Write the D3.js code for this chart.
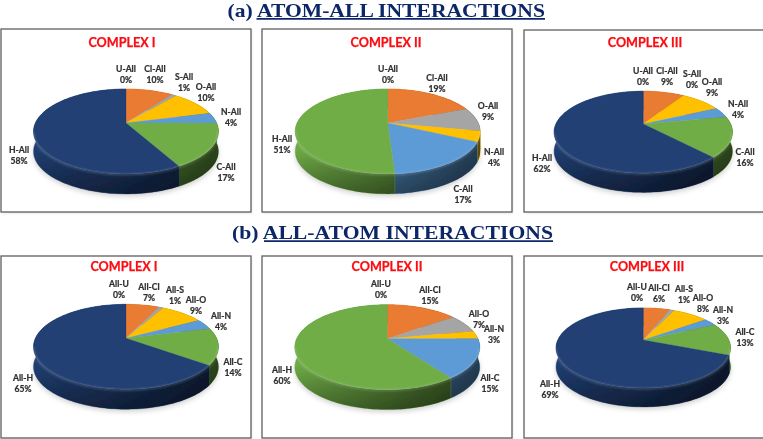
<!DOCTYPE html>
<html><head><meta charset="utf-8">
<script src="https://cdn.jsdelivr.net/npm/d3@7"></script>
<style>html,body{margin:0;padding:0;background:#fff}svg{display:block}</style>
</head><body><div id="chart"></div>
<script>
// ---- data ----
const atomAllLabels = ["U-All","Cl-All","S-All","O-All","N-All","C-All","H-All"];
const atomAllLabelsNoS = ["U-All","Cl-All","O-All","N-All","C-All","H-All"];
const allAtomLabels = ["All-U","All-Cl","All-S","All-O","All-N","All-C","All-H"];
const allAtomLabelsNoS = ["All-U","All-Cl","All-O","All-N","All-C","All-H"];
const atomAllComplex1 = [0,10,1,10,4,17,58];
const atomAllComplex2 = [0,19,9,4,17,51];
const atomAllComplex3 = [0,9,0,9,4,16,62];
const allAtomComplex1 = [0,7,1,9,4,14,65];
const allAtomComplex2 = [0,15,7,3,15,60];
const allAtomComplex3 = [0,6,1,8,3,13,69];
const palette = ["#5b9bd5","#e97c30","#a5a5a5","#ffc000","#5b9bd5","#70ad47","#203f73"];
const complexTitles = ["COMPLEX I","COMPLEX II","COMPLEX III"];
const sectionTitles = [["(a) ","ATOM-ALL INTERACTIONS"],["(b) ","ALL-ATOM INTERACTIONS"]];

// ---- layout ----
const W = 763, H = 439;
const sectionLayout = [{x:227.5,y:17,ul:18.9,w:317.5,u0:256.5,u1:545},{x:232,y:239,ul:241.2,w:321,u0:264,u1:553}];
const panels = [
 {labels:atomAllLabels,    values:atomAllComplex1, title:0, frame:[1,29,251,212],   tx:122,ty:43, cx:126,  cy:123,  r:90.6,
  spots:[[126,69],[155,69],[184,77],[206,87],[231,112],[226,167],[19,150]]},
 {labels:atomAllLabelsNoS, values:atomAllComplex2, title:1, frame:[262,29,512,212], tx:386,ty:43, cx:387.7,cy:123,  r:90.6,
  spots:[[388,69],[437,78],[488,106],[494,152],[463,189],[282,139]]},
 {labels:atomAllLabels,    values:atomAllComplex3, title:2, frame:[524,30,764,212], tx:645,ty:43, cx:643.3,cy:124,  r:87.4,
  spots:[[643,71],[667,71],[692,74],[712,82],[738,104],[745,152],[542,158]]},
 {labels:allAtomLabels,    values:allAtomComplex1, title:0, frame:[1,256,251,438],  tx:124,ty:267,cx:126,  cy:338.3,r:90.6,
  spots:[[119,284],[149,287],[175,290],[196,300],[221,316],[233,362],[23,378]]},
 {labels:allAtomLabelsNoS, values:allAtomComplex2, title:1, frame:[262,256,512,438],tx:387,ty:267,cx:387.3,cy:338.7,r:90.6,
  spots:[[381,284],[430,290],[479,314],[494,329],[490,378],[282,370]]},
 {labels:allAtomLabels,    values:allAtomComplex3, title:2, frame:[524,256,764,438],tx:647,ty:267,cx:643.3,cy:340,  r:85.5,
  spots:[[637,287],[659,288],[684,289],[703,298],[723,310],[745,332],[550,384]]}
];
// perspective of the tilted disc: the apex sits above the centre of the drawn ellipse
const persp = {c:-0.2, a:0.45, depth:0.22};

const svg = d3.select("#chart").append("svg").attr("width",W).attr("height",H).attr("viewBox",[0,0,W,H])
  .style("font-family","Lato, 'Open Sans', sans-serif");
const defs = svg.append("defs");
const soft = defs.append("filter").attr("id","soft").attr("x","-20%").attr("y","-20%").attr("width","140%").attr("height","140%");
soft.append("feGaussianBlur").attr("stdDeviation",2.4);
const softer = defs.append("filter").attr("id","aa").attr("x","-2%").attr("y","-2%").attr("width","104%").attr("height","104%");
softer.append("feGaussianBlur").attr("stdDeviation",0.35);
const rimBlur = defs.append("filter").attr("id","rimBlur").attr("x","-10%").attr("y","-10%").attr("width","120%").attr("height","120%");
rimBlur.append("feGaussianBlur").attr("stdDeviation",0.9);

const root = svg.append("g").attr("filter","url(#aa)");
root.append("rect").attr("width",W).attr("height",H).attr("fill","#fff");

const pie = d3.pie().sort(null).value(d=>d);
const line = d3.line();

function project(p, angle){
  const u = Math.sin(angle), v = -Math.cos(angle), w = 1 + persp.c*v;
  return [p.cx + p.r*u/w, p.cy + p.r*persp.a*v/w];
}
function rim(p, a0, a1){
  const n = Math.max(2, Math.ceil((a1-a0)/0.03));
  const t = d3.scaleLinear().domain([0,n]).range([a0,a1]);
  return d3.range(n+1).map(i=>project(p,t(i)));
}

panels.forEach((p,pi)=>{
  const g = root.append("g");
  const [x0,y0,x1,y1] = p.frame;
  g.append("rect").attr("x",x0+1).attr("y",y0+1.5).attr("width",x1-x0).attr("height",y1-y0)
    .attr("fill","#bbb").attr("opacity",0.35).attr("filter","url(#rimBlur)");
  g.append("rect").attr("x",x0).attr("y",y0).attr("width",x1-x0).attr("height",y1-y0)
    .attr("fill","#fff").attr("stroke","#5f5f5f").attr("stroke-width",1.3);
  g.append("text").attr("x",p.tx).attr("y",p.ty).attr("dy","0.35em").attr("text-anchor","middle")
    .attr("font-size",12.6).attr("font-weight",700).attr("fill","#fb0d12")
    .attr("stroke","#fb0d12").attr("stroke-width",0.25).text(complexTitles[p.title]);

  const arcs = pie(p.values);
  const depth = p.r*persp.depth;
  const full = rim(p,0,2*Math.PI);

  g.append("path").attr("d",line(full.map(q=>[q[0],q[1]+depth+2.5]))+"Z").attr("fill","#9a9a9a")
    .attr("opacity",0.45).attr("filter","url(#soft)");

  const bounds = d3.extent(full,q=>q[0]), ys = d3.extent(full,q=>q[1]);
  const gid = "sideH"+pi, vid = "sideV"+pi;
  const gh = defs.append("linearGradient").attr("id",gid).attr("gradientUnits","userSpaceOnUse")
    .attr("x1",bounds[0]).attr("x2",bounds[1]).attr("y1",0).attr("y2",0);
  gh.append("stop").attr("offset",0).attr("stop-color","#000").attr("stop-opacity",0.02);
  gh.append("stop").attr("offset",0.4).attr("stop-color","#000").attr("stop-opacity",0.22);
  gh.append("stop").attr("offset",1).attr("stop-color","#000").attr("stop-opacity",0.62);
  const gv = defs.append("linearGradient").attr("id",vid).attr("gradientUnits","userSpaceOnUse")
    .attr("x1",0).attr("x2",0).attr("y1",ys[1]-depth*1.2).attr("y2",ys[1]+depth);
  gv.append("stop").attr("offset",0).attr("stop-color","#000").attr("stop-opacity",0);
  gv.append("stop").attr("offset",1).attr("stop-color","#000").attr("stop-opacity",0.35);

  const walls = g.append("g");
  arcs.filter(a=>a.endAngle>a.startAngle).forEach(a=>{
    const top = rim(p,a.startAngle,a.endAngle);
    const bot = top.map(q=>[q[0],q[1]+depth]).reverse();
    const d = line(top.concat(bot))+"Z";
    walls.append("path").attr("d",d).attr("fill",palette[a.index]).attr("stroke",palette[a.index]).attr("stroke-width",0.4);
    walls.append("path").attr("d",d).attr("fill",`url(#${gid})`);
    walls.append("path").attr("d",d).attr("fill",`url(#${vid})`);
  });

  const tops = g.append("g");
  arcs.filter(a=>a.endAngle>a.startAngle).forEach(a=>{
    const pts = [[p.cx,p.cy]].concat(rim(p,a.startAngle,a.endAngle));
    tops.append("path").attr("d",line(pts)+"Z").attr("fill",palette[a.index])
      .attr("stroke",palette[a.index]).attr("stroke-width",0.3);
  });
  const front = full.filter(q=>q[1] > p.cy + p.r*0.08);
  g.append("path").attr("d",line(front.map(q=>[q[0],q[1]+0.6]))).attr("fill","none")
    .attr("stroke","#fff").attr("stroke-opacity",0.22).attr("stroke-width",1.6).attr("filter","url(#rimBlur)");

  const lab = g.append("g").attr("font-size",8.6).attr("font-weight",700).attr("fill","#303030")
    .attr("stroke","#303030").attr("stroke-width",0.22).attr("text-anchor","middle");
  p.labels.forEach((name,i)=>{
    const [lx,ly] = p.spots[i];
    lab.append("text").attr("x",lx).attr("y",ly).attr("dy","0.35em").text(name);
    lab.append("text").attr("x",lx).attr("y",ly+10.8).attr("dy","0.35em").text(p.values[i]+"%");
  });
});

sectionTitles.forEach((s,i)=>{
  const L = sectionLayout[i];
  root.append("text").attr("x",L.x).attr("y",L.y)
    .attr("font-family","'Liberation Serif', serif").attr("font-weight",700).attr("font-size",19)
    .attr("textLength",L.w).attr("lengthAdjust","spacingAndGlyphs")
    .attr("fill","#0c2867").text(s[0]+s[1]);
  root.append("line").attr("x1",L.u0).attr("x2",L.u1).attr("y1",L.ul).attr("y2",L.ul)
    .attr("stroke","#0c2867").attr("stroke-width",1.8);
});
</script></body></html>
